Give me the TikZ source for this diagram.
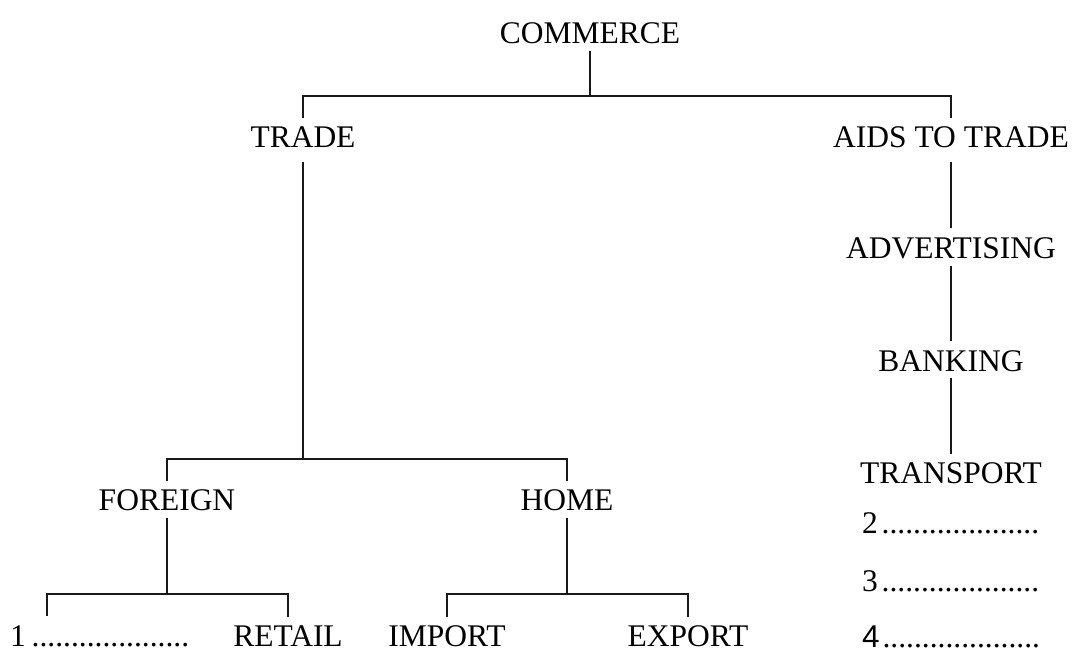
\documentclass[tikz,border=0pt]{standalone}
\usepackage{fontspec}
\setmainfont{Liberation Serif}
\newfontfamily\sansdigit{Liberation Sans}
\begin{document}
\begin{tikzpicture}[x=1pt,y=-1pt,
  lbl/.style={anchor=base,inner sep=0pt,outer sep=0pt,font=\fontsize{31.5}{38}\selectfont},
  conn/.style={line width=1.8pt,black!90}]
\useasboundingbox (0,0) rectangle (1080,662);
% nodes
\node[lbl] (commerce) at (590,43) {COMMERCE};
\node[lbl] (trade) at (303,147) {TRADE};
\node[lbl] (aids) at (951,147) {AIDS TO TRADE};
\node[lbl] (adv) at (951,258) {ADVERTISING};
\node[lbl] (bank) at (951,371) {BANKING};
\node[lbl] (transport) at (951,483) {TRANSPORT};
\node[lbl,anchor=base west] (two) at (862,533) {2\hspace{4pt}....................};
\node[lbl,anchor=base west] (three) at (862,591) {3\hspace{4pt}....................};
\node[lbl,anchor=base west] (four) at (862,647) {{\sansdigit 4}\hspace{3pt}....................};
\node[lbl] (foreign) at (167,510) {FOREIGN};
\node[lbl] (home) at (567,510) {HOME};
\node[lbl,anchor=base west] (one) at (10,646) {1\hspace{6pt}....................};
\node[lbl] (retail) at (288,646) {RETAIL};
\node[lbl] (import) at (447,646) {IMPORT};
\node[lbl] (export) at (688,646) {EXPORT};
% bar coordinates
\coordinate (b1) at (590,96);
\coordinate (b2) at (304,459);
\coordinate (b3) at (167,594);
\coordinate (b4) at (567,594);
\coordinate (t1) at (47,616);
% connectors
\draw[conn] ([yshift=-8pt]commerce.south) -- (commerce.south |- b1);
\draw[conn] ([yshift=8pt]trade.north) |- (b1) -| ([yshift=8pt]aids.north);
\draw[conn] ([yshift=-15pt]trade.south) -- (trade.south |- b2);
\draw[conn] ([yshift=8pt]foreign.north) |- (b2) -| ([yshift=8pt]home.north);
\draw[conn] ([yshift=-8pt]foreign.south) -- (foreign.south |- b3);
\draw[conn] (t1) |- (b3) -| ([yshift=8pt]retail.north);
\draw[conn] ([yshift=-8pt]home.south) -- (home.south |- b4);
\draw[conn] ([yshift=8pt]import.north) |- (b4) -| ([yshift=8pt]export.north);
\draw[conn] ([yshift=-15pt]aids.south) -- ([yshift=9pt]adv.north);
\draw[conn] ([yshift=-8pt]adv.south) -- ([yshift=9pt]bank.north);
\draw[conn] ([yshift=-7pt]bank.south) -- ([yshift=8pt]transport.north);
\end{tikzpicture}
\end{document}
